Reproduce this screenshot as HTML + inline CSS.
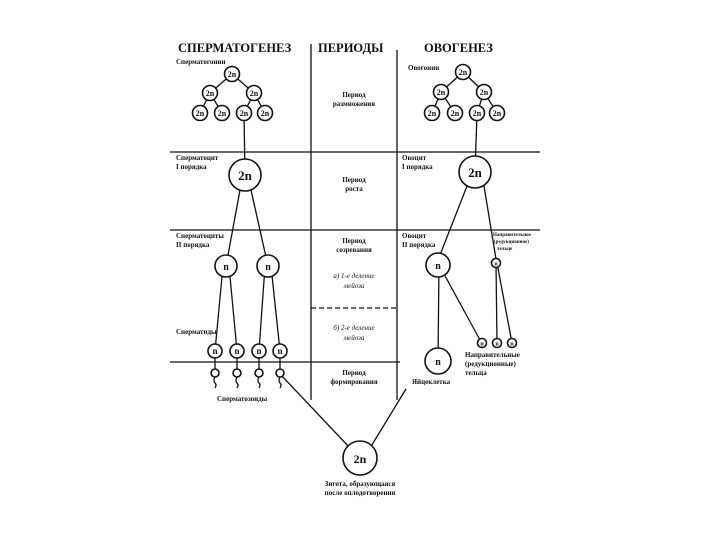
<!DOCTYPE html>
<html><head><meta charset="utf-8"><style>
html,body{margin:0;padding:0;background:#fff;width:720px;height:540px;overflow:hidden}
svg{display:block}
text{font-family:"Liberation Serif",serif;fill:#111}
.h{font-weight:bold;font-size:12.5px}
.s{font-size:7px;font-weight:bold}
.c{font-size:7px;font-weight:bold;text-anchor:middle}
.i{font-size:7px;font-style:italic;text-anchor:middle}
.n{font-weight:bold;text-anchor:middle}
circle{fill:#fff;stroke:#111;stroke-width:1.6}
line,path{stroke:#111;stroke-width:1.3;fill:none}
</style></head><body>
<svg width="720" height="540" viewBox="0 0 720 540">
<!-- headers -->
<text class="h" x="178" y="52">СПЕРМАТОГЕНЕЗ</text>
<text class="h" x="318" y="52">ПЕРИОДЫ</text>
<text class="h" x="424" y="52">ОВОГЕНЕЗ</text>
<!-- grid -->
<line x1="311" y1="44" x2="311" y2="400" stroke-width="1.8"/>
<line x1="397" y1="50" x2="397" y2="400" stroke-width="1.8"/>
<line x1="170" y1="152" x2="540" y2="152" stroke-width="1"/>
<line x1="170" y1="230" x2="540" y2="230" stroke-width="1"/>
<line x1="311" y1="308" x2="397" y2="308" stroke-width="1" stroke-dasharray="5,3"/>
<line x1="170" y1="362" x2="400" y2="362" stroke-width="1"/>
<!-- periods -->
<text class="c" x="354" y="97">Период</text>
<text class="c" x="354" y="106">размножения</text>
<text class="c" x="354" y="182">Период</text>
<text class="c" x="354" y="191">роста</text>
<text class="c" x="354" y="243">Период</text>
<text class="c" x="354" y="252">созревания</text>
<text class="i" x="354" y="278">а) 1-е деление</text>
<text class="i" x="354" y="288">мейоза</text>
<text class="i" x="354" y="330">б) 2-е деление</text>
<text class="i" x="354" y="340">мейоза</text>
<text class="c" x="354" y="375">Период</text>
<text class="c" x="354" y="384">формирования</text>
<!-- left labels -->
<text class="s" x="176" y="64">Сперматогонии</text>
<text class="s" x="176" y="160">Сперматоцит</text>
<text class="s" x="176" y="169">I порядка</text>
<text class="s" x="176" y="238">Сперматоциты</text>
<text class="s" x="176" y="247">II порядка</text>
<text class="s" x="176" y="334">Сперматиды</text>
<text class="s" x="217" y="401">Сперматозоиды</text>
<!-- left tree lines -->
<path d="M232 74 L210 93 M232 74 L254 93 M210 93 L200 113 M210 93 L222 113 M254 93 L244 113 M254 93 L265 113"/>
<line x1="244" y1="113" x2="245" y2="175"/>
<path d="M240 190 L226 266 M251 190 L268 266"/>
<path d="M223 266 L215 351 M229 266 L237 351 M265 266 L259 351 M271 266 L280 351"/>
<path d="M215 351 V373 M237 351 V373 M259 351 V373 M280 351 V373"/>
<path d="M215 377 q-2 4 0 6 q2 2 0 5 M237 377 q-2 4 0 6 q2 2 0 5 M259 377 q-2 4 0 6 q2 2 0 5 M280 377 q-2 4 0 6 q2 2 0 5" stroke-width="0.9"/>
<line x1="281" y1="375" x2="350" y2="448"/>
<!-- left circles -->
<circle cx="232" cy="74" r="7.5"/><text class="n" x="232" y="77" font-size="8">2n</text>
<circle cx="210" cy="93" r="7.5"/><text class="n" x="210" y="96" font-size="8">2n</text>
<circle cx="254" cy="93" r="7.5"/><text class="n" x="254" y="96" font-size="8">2n</text>
<circle cx="200" cy="113" r="7.5"/><text class="n" x="200" y="116" font-size="8">2n</text>
<circle cx="222" cy="113" r="7.5"/><text class="n" x="222" y="116" font-size="8">2n</text>
<circle cx="244" cy="113" r="7.5"/><text class="n" x="244" y="116" font-size="8">2n</text>
<circle cx="265" cy="113" r="7.5"/><text class="n" x="265" y="116" font-size="8">2n</text>
<circle cx="245" cy="175" r="16"/><text class="n" x="245" y="180" font-size="13">2n</text>
<circle cx="226" cy="266" r="11"/><text class="n" x="226" y="270" font-size="10">n</text>
<circle cx="268" cy="266" r="11"/><text class="n" x="268" y="270" font-size="10">n</text>
<circle cx="215" cy="351" r="7"/><text class="n" x="215" y="354" font-size="9">n</text>
<circle cx="237" cy="351" r="7"/><text class="n" x="237" y="354" font-size="9">n</text>
<circle cx="259" cy="351" r="7"/><text class="n" x="259" y="354" font-size="9">n</text>
<circle cx="280" cy="351" r="7"/><text class="n" x="280" y="354" font-size="9">n</text>
<circle cx="215" cy="373" r="4"/><circle cx="237" cy="373" r="4"/><circle cx="259" cy="373" r="4"/><circle cx="280" cy="373" r="4"/>
<!-- right labels -->
<text class="s" x="408" y="70">Овогонии</text>
<text class="s" x="402" y="160">Овоцит</text>
<text class="s" x="402" y="169">I порядка</text>
<text class="s" x="402" y="238">Овоцит</text>
<text class="s" x="402" y="247">II порядка</text>
<text x="493" y="236" font-size="5" font-weight="bold">Направительное</text>
<text x="494" y="243" font-size="5" font-weight="bold">(редукционное)</text>
<text x="497" y="250" font-size="5" font-weight="bold">тельце</text>
<text class="s" x="465" y="357">Направительные</text>
<text class="s" x="465" y="366">(редукционные)</text>
<text class="s" x="465" y="375">тельца</text>
<text class="s" x="412" y="384">Яйцеклетка</text>
<!-- right lines -->
<path d="M463 72 L441 92 M463 72 L484 92 M441 92 L432 113 M441 92 L455 113 M484 92 L477 113 M484 92 L497 113"/>
<line x1="477" y1="113" x2="475" y2="172"/>
<path d="M467 186 L440 255 M484 186 L496 259"/>
<line x1="439" y1="265" x2="438" y2="360"/>
<line x1="444" y1="274" x2="480" y2="340"/>
<path d="M496 263 L497 343 M497 263 L512 343"/>
<line x1="406" y1="389" x2="370" y2="448"/>
<!-- right circles -->
<circle cx="463" cy="72" r="7.5"/><text class="n" x="463" y="75" font-size="8">2n</text>
<circle cx="441" cy="92" r="7.5"/><text class="n" x="441" y="95" font-size="8">2n</text>
<circle cx="484" cy="92" r="7.5"/><text class="n" x="484" y="95" font-size="8">2n</text>
<circle cx="432" cy="113" r="7.5"/><text class="n" x="432" y="116" font-size="8">2n</text>
<circle cx="455" cy="113" r="7.5"/><text class="n" x="455" y="116" font-size="8">2n</text>
<circle cx="477" cy="113" r="7.5"/><text class="n" x="477" y="116" font-size="8">2n</text>
<circle cx="497" cy="113" r="7.5"/><text class="n" x="497" y="116" font-size="8">2n</text>
<circle cx="475" cy="172" r="16"/><text class="n" x="475" y="177" font-size="13">2n</text>
<circle cx="438" cy="265" r="12"/><text class="n" x="438" y="269" font-size="10">n</text>
<circle cx="496" cy="263" r="4.5"/><text class="n" x="496" y="265.5" font-size="6">n</text>
<circle cx="482" cy="343" r="4.5"/><text class="n" x="482" y="345.5" font-size="6">n</text>
<circle cx="497" cy="343" r="4.5"/><text class="n" x="497" y="345.5" font-size="6">n</text>
<circle cx="512" cy="343" r="4.5"/><text class="n" x="512" y="345.5" font-size="6">n</text>
<circle cx="438" cy="361" r="13"/><text class="n" x="438" y="365" font-size="10">n</text>
<!-- zygote -->
<circle cx="360" cy="458" r="17"/><text class="n" x="360" y="463" font-size="12">2n</text>
<text class="c" x="360" y="486">Зигота, образующаяся</text>
<text class="c" x="360" y="495">после оплодотворения</text>
</svg>
</body></html>
